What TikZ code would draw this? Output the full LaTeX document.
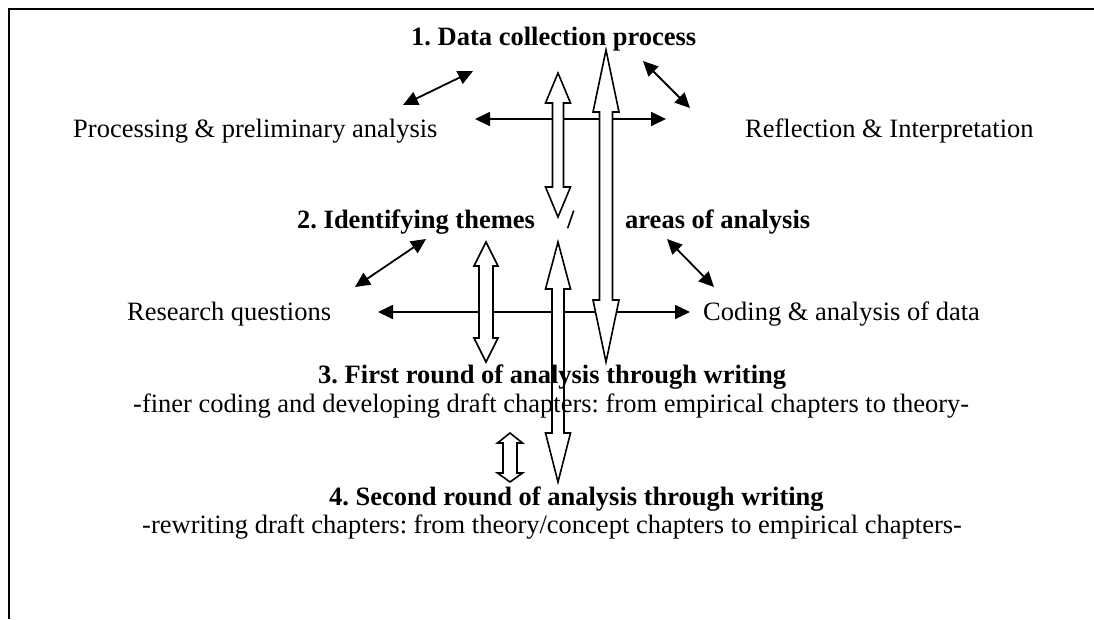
\documentclass[tikz,border=0pt]{standalone}
\usepackage{fontspec}
\setmainfont{Liberation Serif}
\usetikzlibrary{arrows.meta}
\frenchspacing
\tikzset{
  lbl/.style={anchor=base west, inner sep=0pt, font=\fontsize{26.5}{30}\selectfont},
  blbl/.style={anchor=base west, inner sep=0pt, font=\fontsize{26.5}{30}\selectfont\bfseries},
  linkarrow/.style={line width=1.8pt, {Triangle[length=15pt,width=14pt]}-{Triangle[length=15pt,width=14pt]}},
  blockarrow/.style={draw=black, fill=white, line width=1.6pt, line join=miter},
  frameline/.style={line width=2pt},
}
% x, top tip, top head base, bottom head base, bottom tip, half shaft, half head
\newcommand\dblarrow[7]{%
  \draw[blockarrow] (#1,#2) -- (#1+#7,#3) -- (#1+#6,#3) -- (#1+#6,#4) -- (#1+#7,#4)
    -- (#1,#5) -- (#1-#7,#4) -- (#1-#6,#4) -- (#1-#6,#3) -- (#1-#7,#3) -- cycle;}
\begin{document}
\frenchspacing
\begin{tikzpicture}[x=1pt,y=-1pt]
\useasboundingbox (0,0) rectangle (1094,619);
\draw[frameline] (9,619) -- (9,9) -- (1094,9);

% thin connector end points
\coordinate (a1) at (403,105); \coordinate (a2) at (473,71);
\coordinate (b1) at (643,61);  \coordinate (b2) at (690,108);
\coordinate (c1) at (475,119); \coordinate (c2) at (666,119);
\coordinate (d1) at (355,287); \coordinate (d2) at (426,239);
\coordinate (e1) at (667,239); \coordinate (e2) at (714,287);
\coordinate (f1) at (378,312); \coordinate (f2) at (690,312);

\draw[linkarrow] (a1) -- (a2);
\draw[linkarrow] (b1) -- (b2);
\draw[linkarrow] (c1) -- (c2);
\draw[linkarrow] (d1) -- (d2);
\draw[linkarrow] (e1) -- (e2);
\draw[linkarrow] (f1) -- (f2);

% block arrows
\dblarrow{558}{73}{103}{187}{217}{5.5}{12.5}
\dblarrow{606}{50}{112}{300}{362}{6.5}{13}
\dblarrow{486}{242}{266}{338}{362}{7}{12}
\dblarrow{558}{242}{289}{433}{482}{6}{12.5}
\dblarrow{510}{433}{443}{473}{482}{7}{12.5}

% texts
\node[blbl] (t1) at (411,45) {1. Data collection process};
\node[lbl] (pp) at (73,137) {Processing \& preliminary analysis};
\node[lbl] (ri) at (745,137) {Reflection \& Interpretation};
\node[blbl] (t2) at (297,228) {2. Identifying themes};
\node[blbl] (sl) at (567,228) {/};
\node[blbl] (t2b) at (625,228) {areas of analysis};
\node[lbl] (rq) at (127,320) {Research questions};
\node[lbl] (cd) at (703,320) {Coding \& analysis of data};
\node[blbl] (t3) at (318,383) {3. First round of analysis through writing};
\node[lbl] (t3s) at (133,412) {-finer coding and developing draft chapters: from empirical chapters to theory-};
\node[blbl] (t4) at (329,505) {4. Second round of analysis through writing};
\node[lbl] (t4s) at (142,533) {-rewriting draft chapters: from theory/concept chapters to empirical chapters-};
\end{tikzpicture}
\end{document}
